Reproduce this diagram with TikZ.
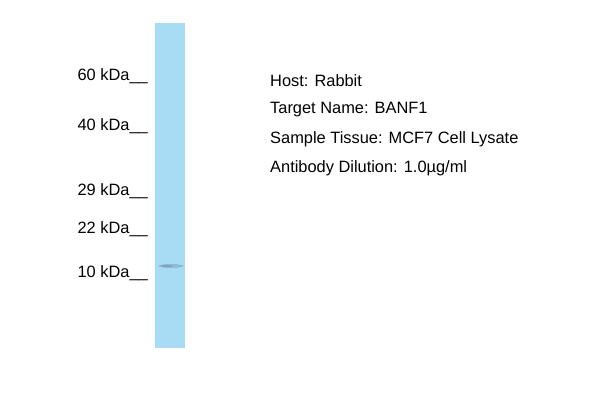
\documentclass[tikz,border=0pt]{standalone}
\usepackage{fontspec}
\setmainfont{Liberation Sans}
\usetikzlibrary{shapes.geometric}
\definecolor{laneblue}{HTML}{A8DCF5}
\definecolor{bandblue}{HTML}{5E7E9A}

\begin{document}
\begin{tikzpicture}[x=1pt, y=-1pt,
  marker/.style={anchor=east, font=\fontsize{16.4}{18}\selectfont, inner sep=0pt},
  info/.style={anchor=west, font=\fontsize{16.4}{18}\selectfont, inner sep=0pt}]
\useasboundingbox (0, 0) rectangle (600, 400);
% lane
\path (170, 185.5) node[fill=laneblue, minimum width=30pt, minimum height=325pt, inner sep=0pt] (lane) {};
\path (171, 266) node[fill=bandblue, opacity=0.35, ellipse, minimum width=25pt, minimum height=4pt, inner sep=0pt] (band) {};
\path (167, 266) node[fill=bandblue, opacity=0.35, ellipse, minimum width=12pt, minimum height=2.5pt, inner sep=0pt] (bandcore) {};
% markers
\node[marker] (m60) at (148, 76) {60 kDa\_\_};
\node[marker] (m40) at (148, 126) {40 kDa\_\_};
\node[marker] (m29) at (148, 191) {29 kDa\_\_};
\node[marker] (m22) at (148, 229) {22 kDa\_\_};
\node[marker] (m10) at (148, 273) {10 kDa\_\_};
% info
\node[info] (host) at (270, 81) {Host: Rabbit};
\node[info] (target) at (270, 110) {Target Name: BANF1};
\node[info] (tissue) at (270, 139) {Sample Tissue: MCF7 Cell Lysate};
\node[info] (dilution) at (270, 168) {Antibody Dilution: 1.0µg/ml};
\end{tikzpicture}
\end{document}
